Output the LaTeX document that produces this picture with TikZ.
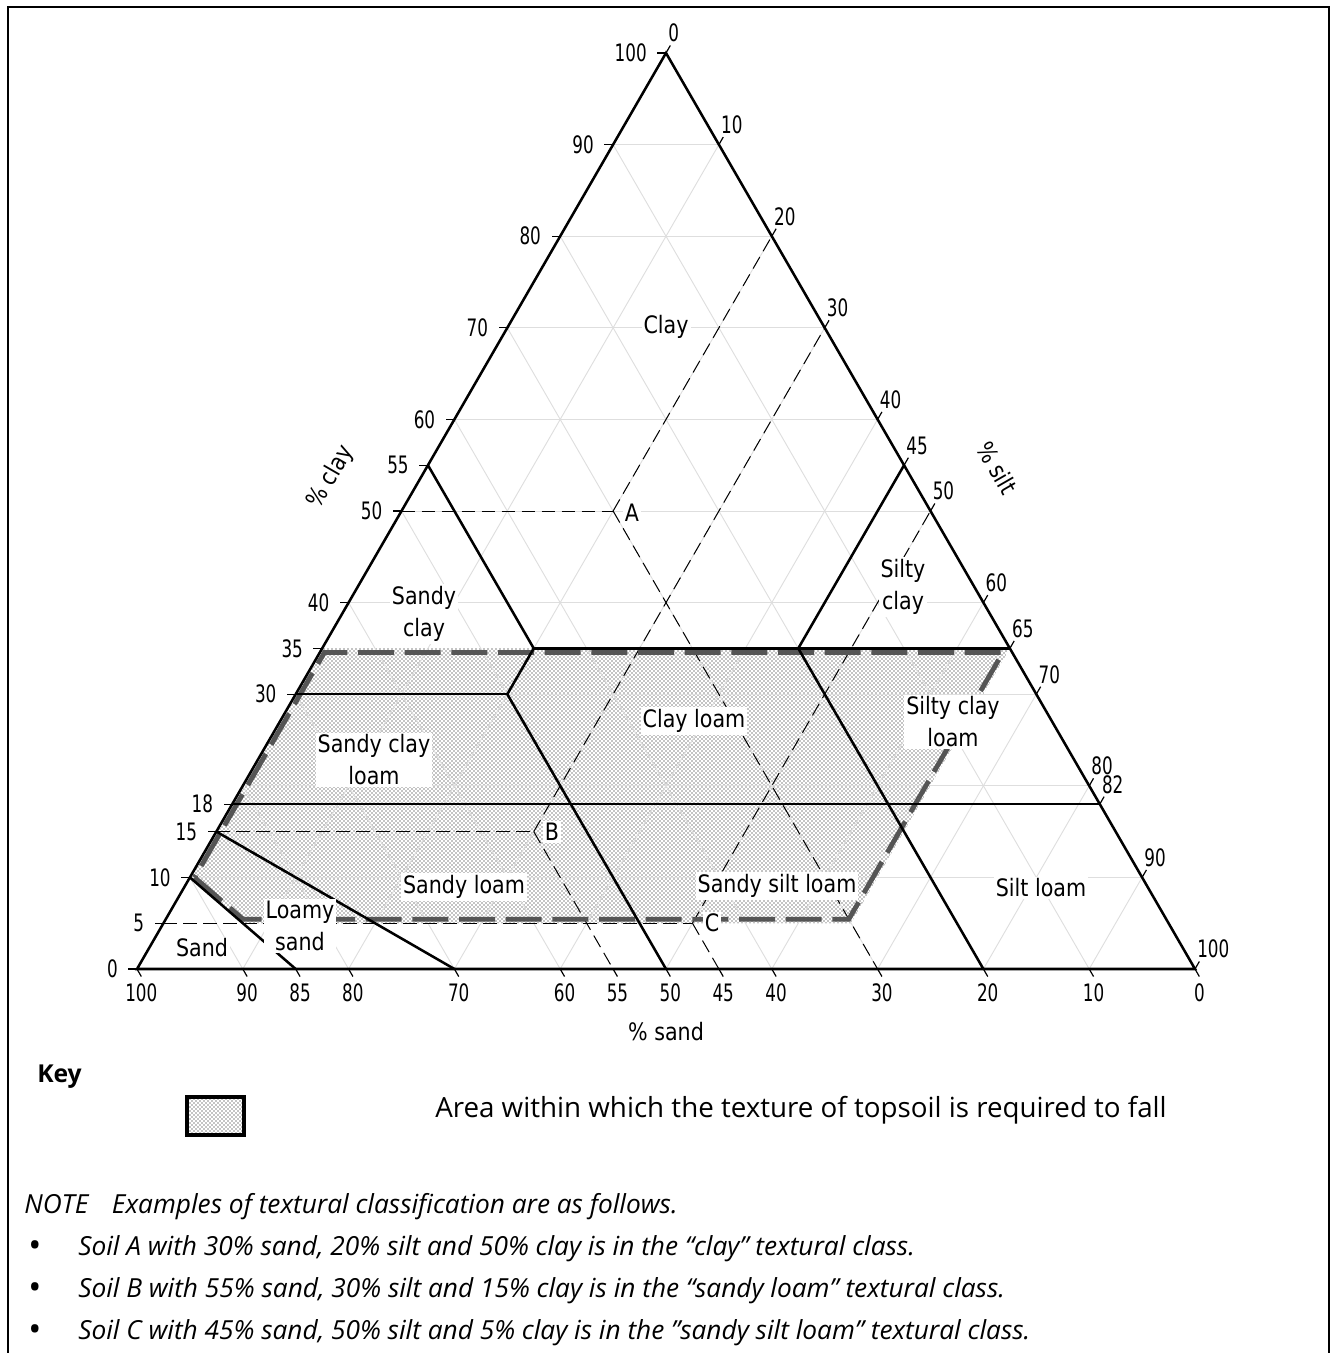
\documentclass[tikz,border=0pt]{standalone}
\usepackage{fontspec}
\setmainfont{Open Sans}
\newfontfamily\isofont[FakeStretch=0.86]{DejaVu Sans}
\newfontfamily\isonum[FakeStretch=0.7]{DejaVu Sans}
\usepackage{tikz}
\usetikzlibrary{patterns}
\definecolor{topsoilgray}{HTML}{555555}

\begin{document}
\begin{tikzpicture}[x=0.75pt, y=-0.75pt,
    gridline/.style={draw=black!13, line width=0.7pt},
    classline/.style={draw=black, line width=1.9pt},
    guideline/.style={draw=black, line width=0.75pt, dash pattern=on 10pt off 5pt},
    tickline/.style={draw=black, line width=0.9pt},
    topsoil/.style={draw=topsoilgray, line width=3.6pt, dash pattern=on 27pt off 8pt},
    numlabel/.style={font=\isonum\fontsize{18}{20}\selectfont, inner sep=0pt},
    classlabel/.style={font=\isofont\fontsize{18}{24}\selectfont, fill=white, inner sep=1.5pt, align=center},
    axislabel/.style={font=\isofont\fontsize{18}{24}\selectfont, inner sep=0pt},
    notetext/.style={font=\itshape\fontsize{19.7}{22}\selectfont, inner sep=0pt}]
  \useasboundingbox (0,0) rectangle (1331,1353);
  \draw[line width=1.5pt] (8,1353) -- (8,7) -- (1329,7) -- (1329,1353);

  % ternary chart, point = (silt, clay), sand = 100 - silt - clay
  \begin{scope}[shift={(137,969)}, x={(7.935pt,0pt)}, y={(3.9675pt,6.87pt)}]
    \fill[pattern=crosshatch dots, pattern color=black] (0,10) -- (7.5,5) -- (65,5) -- (65,35) -- (0,35) -- cycle;
    \foreach \v in {10,20,...,90} {
      \draw[gridline] (0,\v) -- ({100-\v},\v);
      \draw[gridline] (\v,0) -- (\v,{100-\v});
      \draw[gridline] (\v,0) -- (0,\v);
    }
    % example soils A, B, C
    \foreach \soil/\t/\c in {A/20/50, B/30/15, C/50/5} {
      \coordinate (\soil) at (\t,\c);
      \draw[guideline] (0,\c) -- (\soil);
      \draw[guideline] (\soil) -- (\t,{100-\t});
      \draw[guideline] (\soil) -- ({\t+\c},0);
    }
    \draw[topsoil] (0.44,10.0) -- (7.3,5.44) -- (64.56,5.44) -- (64.56,34.56) -- (0.44,34.56) -- cycle;

    \draw[classline] (0,55) -- (20,35) -- (20,30) -- (50,0);
    \draw[classline] (0,30) -- (20,30);
    \draw[classline] (20,35) -- (65,35);
    \draw[classline] (45,55) -- (45,35) -- (80,0);
    \draw[classline] (0,18) -- (82,18);
    \draw[classline] (0,15) -- (30,0);
    \draw[classline] (0,10) -- (15,0);
    \draw[classline, line join=miter] (0,0) -- (100,0) -- (0,100) -- cycle;

    \foreach \c in {0,5,10,15,18,30,35,40,50,55,60,70,80,90,100}
      \draw[tickline] (0,\c) -- ++(-6.5pt,0pt) node[numlabel, anchor=east, xshift=-7.5pt] {\c};
    \foreach \s in {100,90,85,80,70,60,55,50,45,40,30,20,10,0}
      \draw[tickline] ({100-\s},0) -- ++(-60:6.5pt) node[numlabel, anchor=north, yshift=-5pt] {\s};
    \foreach \t in {0,10,20,30,40,45,50,60,65,70,80,82,90,100}
      \draw[tickline] (\t,{100-\t}) -- ++(60:6.5pt) node[numlabel, anchor=south west, xshift=-2pt, yshift=2pt] {\t};
  \end{scope}

  \node[axislabel, rotate=60] (claytitle) at (331,477) {\% clay};
  \node[axislabel, rotate=-60] (silttitle) at (997,468) {\% silt};
  \node[axislabel] (sandtitle) at (666,1032) {\% sand};

  \node[classlabel] (clay) at (666,327) {Clay};
  \node[classlabel] (sandyclay) at (424,614) {Sandy\\clay};
  \node[classlabel] (siltyclay) at (903,587) {Silty\\clay};
  \node[classlabel] (sandyclayloam) at (374,760) {Sandy clay\\loam};
  \node[classlabel] (clayloam) at (694,721) {Clay loam};
  \node[classlabel] (siltyclayloam) at (953,722) {Silty clay\\loam};
  \node[classlabel] (sandyloam) at (464,887) {Sandy loam};
  \node[classlabel] (sandysiltloam) at (777,886) {Sandy silt loam};
  \node[classlabel] (siltloam) at (1041,888) {Silt loam};
  \node[classlabel] (loamysand) at (300,926) {Loamy\\sand};
  \node[classlabel] (sand) at (202,948) {Sand};
  \node[classlabel] (labA) at (632,513) {A};
  \node[classlabel] (labB) at (552,832) {B};
  \node[classlabel] (labC) at (712,923) {C};

  % key and note
  \node[font=\bfseries\fontsize{18.5}{20}\selectfont, anchor=west, inner sep=0pt] (keytitle) at (37,1077) {Key};
  \node[draw, line width=2.4pt, pattern=crosshatch dots, pattern color=black, minimum width=42.75pt, minimum height=28.5pt, inner sep=0pt] (keybox) at (215.5,1116) {};
  \node[font=\fontsize{20.8}{22}\selectfont, anchor=west, inner sep=0pt] (keytext) at (435,1110) {Area within which the texture of topsoil is required to fall};
  \node[notetext, anchor=west] (note) at (24,1207) {NOTE\hspace{0.9em}Examples of textural classification are as follows.};
  \foreach[count=\i] \txt in {{Soil A with 30\% sand, 20\% silt and 50\% clay is in the “clay” textural class.},
      {Soil B with 55\% sand, 30\% silt and 15\% clay is in the “sandy loam” textural class.},
      {Soil C with 45\% sand, 50\% silt and 5\% clay is in the "sandy silt loam" textural class.}} {
    \node[font=\fontsize{26}{26}\selectfont, inner sep=0pt] (bullet\i) at (35,{1207+42*\i}) {\textbullet};
    \node[notetext, anchor=west] (soil\i) at (78,{1207+42*\i}) {\txt};
  }
\end{tikzpicture}
\end{document}
